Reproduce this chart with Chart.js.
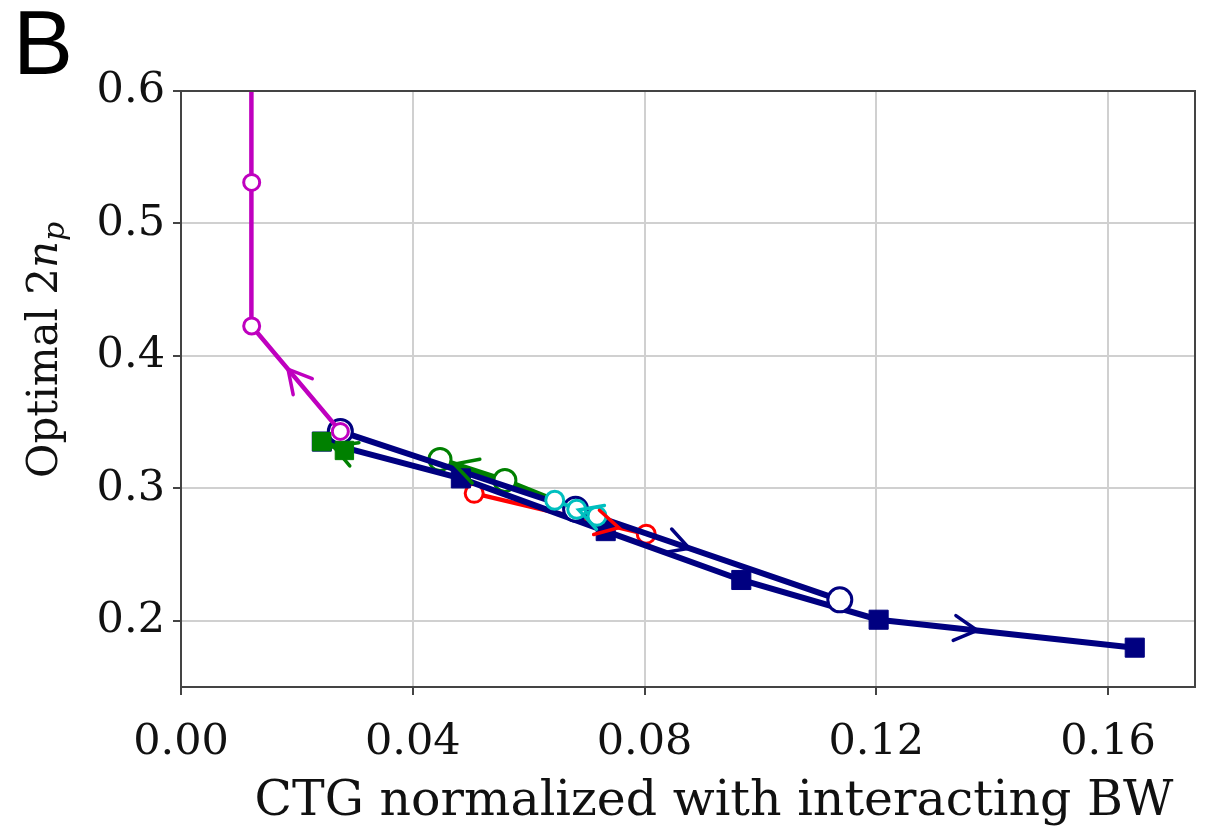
<!DOCTYPE html>
<html>
<head>
<meta charset="utf-8">
<script src="https://cdn.jsdelivr.net/npm/chart.js@4"></script>
<style>
  html, body { margin: 0; padding: 0; background: #fff; }
  #wrap { width: 1210px; height: 831px; }
</style>
</head>
<body>
<div id="wrap"><canvas id="myChart" width="1210" height="831"></canvas></div>
<script>
// Optimal 2n_p vs normalized CTG, one line per sweep

const xTicks = [0, 0.04, 0.08, 0.12, 0.16];
const yTicks = [0.2, 0.3, 0.4, 0.5, 0.6];

// magenta sweep (open circles)
const magentaX = [0.0275, 0.0122, 0.0122, 0.0121];
const magentaY = [0.343, 0.4226, 0.531, 0.66];

// navy sweep, open circles
const navyCircX = [0.0275, 0.0681, 0.1137];
const navyCircY = [0.343, 0.2842, 0.2158];

// navy sweep, filled squares
const navySqX = [0.0243, 0.0483, 0.0733, 0.0967, 0.1204, 0.1646];
const navySqY = [0.3353, 0.3075, 0.2677, 0.2308, 0.2008, 0.1797];

// green sweeps
const greenCircX = [0.0681, 0.0559, 0.0447];
const greenCircY = [0.2845, 0.306, 0.3218];
const greenSqX = [0.0282, 0.0243];
const greenSqY = [0.3286, 0.3353];

// red sweep
const redX = [0.0506, 0.0803];
const redY = [0.2962, 0.2654];

// cyan sweep
const cyanX = [0.0718, 0.0683, 0.0645];
const cyanY = [0.279, 0.2842, 0.291];

// arrow heads: dataset index, segment, fraction along segment
const arrowMarks = [
    { ds: 0, seg: 0, at: 0.59 },
    { ds: 1, seg: 1, at: 0.43 },
    { ds: 2, seg: 4, at: 0.385 },
    { ds: 3, seg: 1, at: 0.78 },
    { ds: 4, seg: 0, at: 0.5 },
    { ds: 5, seg: 0, at: 0.84 },
    { ds: 6, seg: 0, at: 0.9 }
];

const toPoints = (xs, ys) => xs.map((x, i) => ({ x: x, y: ys[i] }));

const SERIF = "'DejaVu Serif', serif";
const TEXT = '#111';
const MAGENTA = '#bf00bf';
const NAVY = '#000080';
const GREEN = '#008000';
const RED = '#ff0000';
const CYAN = '#00bfbf';

function lineSet(xs, ys, color, style, radius, order, width) {
    return {
        data: toPoints(xs, ys),
        showLine: true,
        borderColor: color,
        borderWidth: width,
        backgroundColor: color,
        pointStyle: style,
        pointRadius: radius,
        pointBorderColor: color,
        pointBackgroundColor: style === 'rect' ? color : '#ffffff',
        pointBorderWidth: style === 'rect' ? 1 : 3,
        pointHoverRadius: radius,
        order: order
    };
}

const datasets = [
    lineSet(magentaX, magentaY, MAGENTA, 'circle', [8, 8, 8, 0], 0, 4.5),
    lineSet(navyCircX, navyCircY, NAVY, 'circle', 12, 2, 6),
    lineSet(navySqX, navySqY, NAVY, 'rect', 13.5, 3, 6),
    lineSet(greenCircX, greenCircY, GREEN, 'circle', 11, 4, 5.5),
    lineSet(greenSqX, greenSqY, GREEN, 'rect', 13, 1, 5.5),
    lineSet(redX, redY, RED, 'circle', 9, 5, 4.5),
    lineSet(cyanX, cyanY, CYAN, 'circle', 9, 1, 4)
];

const extrasPlugin = {
    id: 'extras',
    afterDatasetsDraw(chart) {
        const ctx = chart.ctx;
        arrowMarks.forEach(a => {
            const pts = chart.getDatasetMeta(a.ds).data;
            const p0 = pts[a.seg], p1 = pts[a.seg + 1];
            const vx = p0.x + (p1.x - p0.x) * a.at;
            const vy = p0.y + (p1.y - p0.y) * a.at;
            const ang = Math.atan2(p1.y - p0.y, p1.x - p0.x);
            const len = 26, spread = 0.5;
            ctx.save();
            ctx.strokeStyle = chart.data.datasets[a.ds].borderColor;
            ctx.lineWidth = 3.5;
            ctx.lineCap = 'round';
            ctx.beginPath();
            ctx.moveTo(vx - len * Math.cos(ang - spread), vy - len * Math.sin(ang - spread));
            ctx.lineTo(vx, vy);
            ctx.lineTo(vx - len * Math.cos(ang + spread), vy - len * Math.sin(ang + spread));
            ctx.stroke();
            ctx.restore();
        });
    },
    afterDraw(chart) {
        const ctx = chart.ctx;
        const area = chart.chartArea;
        ctx.save();
        // top and right spines
        ctx.strokeStyle = '#444';
        ctx.lineWidth = 2;
        ctx.beginPath();
        ctx.moveTo(area.left, area.top);
        ctx.lineTo(area.right, area.top);
        ctx.lineTo(area.right, area.bottom);
        ctx.stroke();
        ctx.restore();

        // x axis title
        ctx.save();
        ctx.fillStyle = TEXT;
        ctx.font = '49px ' + SERIF;
        ctx.textAlign = 'center';
        ctx.textBaseline = 'alphabetic';
        ctx.fillText('CTG normalized with interacting BW', 714, 815);
        ctx.restore();

        // y axis title with italic n and subscript p
        ctx.save();
        ctx.translate(46, 478);
        ctx.rotate(-Math.PI / 2);
        ctx.fillStyle = TEXT;
        ctx.textBaseline = 'middle';
        ctx.textAlign = 'left';
        let x = 0;
        ctx.font = '42px ' + SERIF;
        ctx.fillText('Optimal 2', x, 0);
        x += ctx.measureText('Optimal 2').width;
        ctx.font = 'italic 42px ' + SERIF;
        ctx.fillText('n', x, 0);
        x += ctx.measureText('n').width;
        ctx.font = 'italic 30px ' + SERIF;
        ctx.fillText('p', x, 10);
        ctx.restore();

        // panel letter
        ctx.save();
        ctx.fillStyle = '#000';
        ctx.font = "90px 'Liberation Sans', sans-serif";
        ctx.textBaseline = 'alphabetic';
        ctx.fillText('B', 13, 74);
        ctx.restore();
    }
};

const ctx = document.getElementById('myChart').getContext('2d');

new Chart(ctx, {
    type: 'scatter',
    data: { datasets: datasets },
    options: {
        responsive: false,
        devicePixelRatio: 1,
        animation: false,
        layout: { padding: { top: 91, right: 13, left: 0, bottom: 0 } },
        plugins: {
            legend: { display: false },
            tooltip: { enabled: false }
        },
        scales: {
            x: {
                type: 'linear',
                min: 0,
                max: 0.175,
                afterBuildTicks: s => { s.ticks = xTicks.map(v => ({ value: v })); },
                afterFit: s => { s.height = 144; },
                ticks: {
                    callback: v => v.toFixed(2),
                    font: { family: SERIF, size: 43 },
                    color: TEXT,
                    padding: 22,
                    maxRotation: 0
                },
                grid: { color: '#d0d0d0', lineWidth: 2, tickLength: 8, tickColor: '#444', tickWidth: 2 },
                border: { color: '#444', width: 2 }
            },
            y: {
                type: 'linear',
                min: 0.15,
                max: 0.6,
                afterBuildTicks: s => { s.ticks = yTicks.map(v => ({ value: v })); },
                afterFit: s => { s.width = 181; },
                ticks: {
                    callback: v => v.toFixed(1),
                    font: { family: SERIF, size: 43 },
                    color: TEXT,
                    padding: 8
                },
                grid: { color: '#d0d0d0', lineWidth: 2, tickLength: 8, tickColor: '#444', tickWidth: 2 },
                border: { color: '#444', width: 2 }
            }
        }
    },
    plugins: [extrasPlugin]
});
</script>
</body>
</html>
